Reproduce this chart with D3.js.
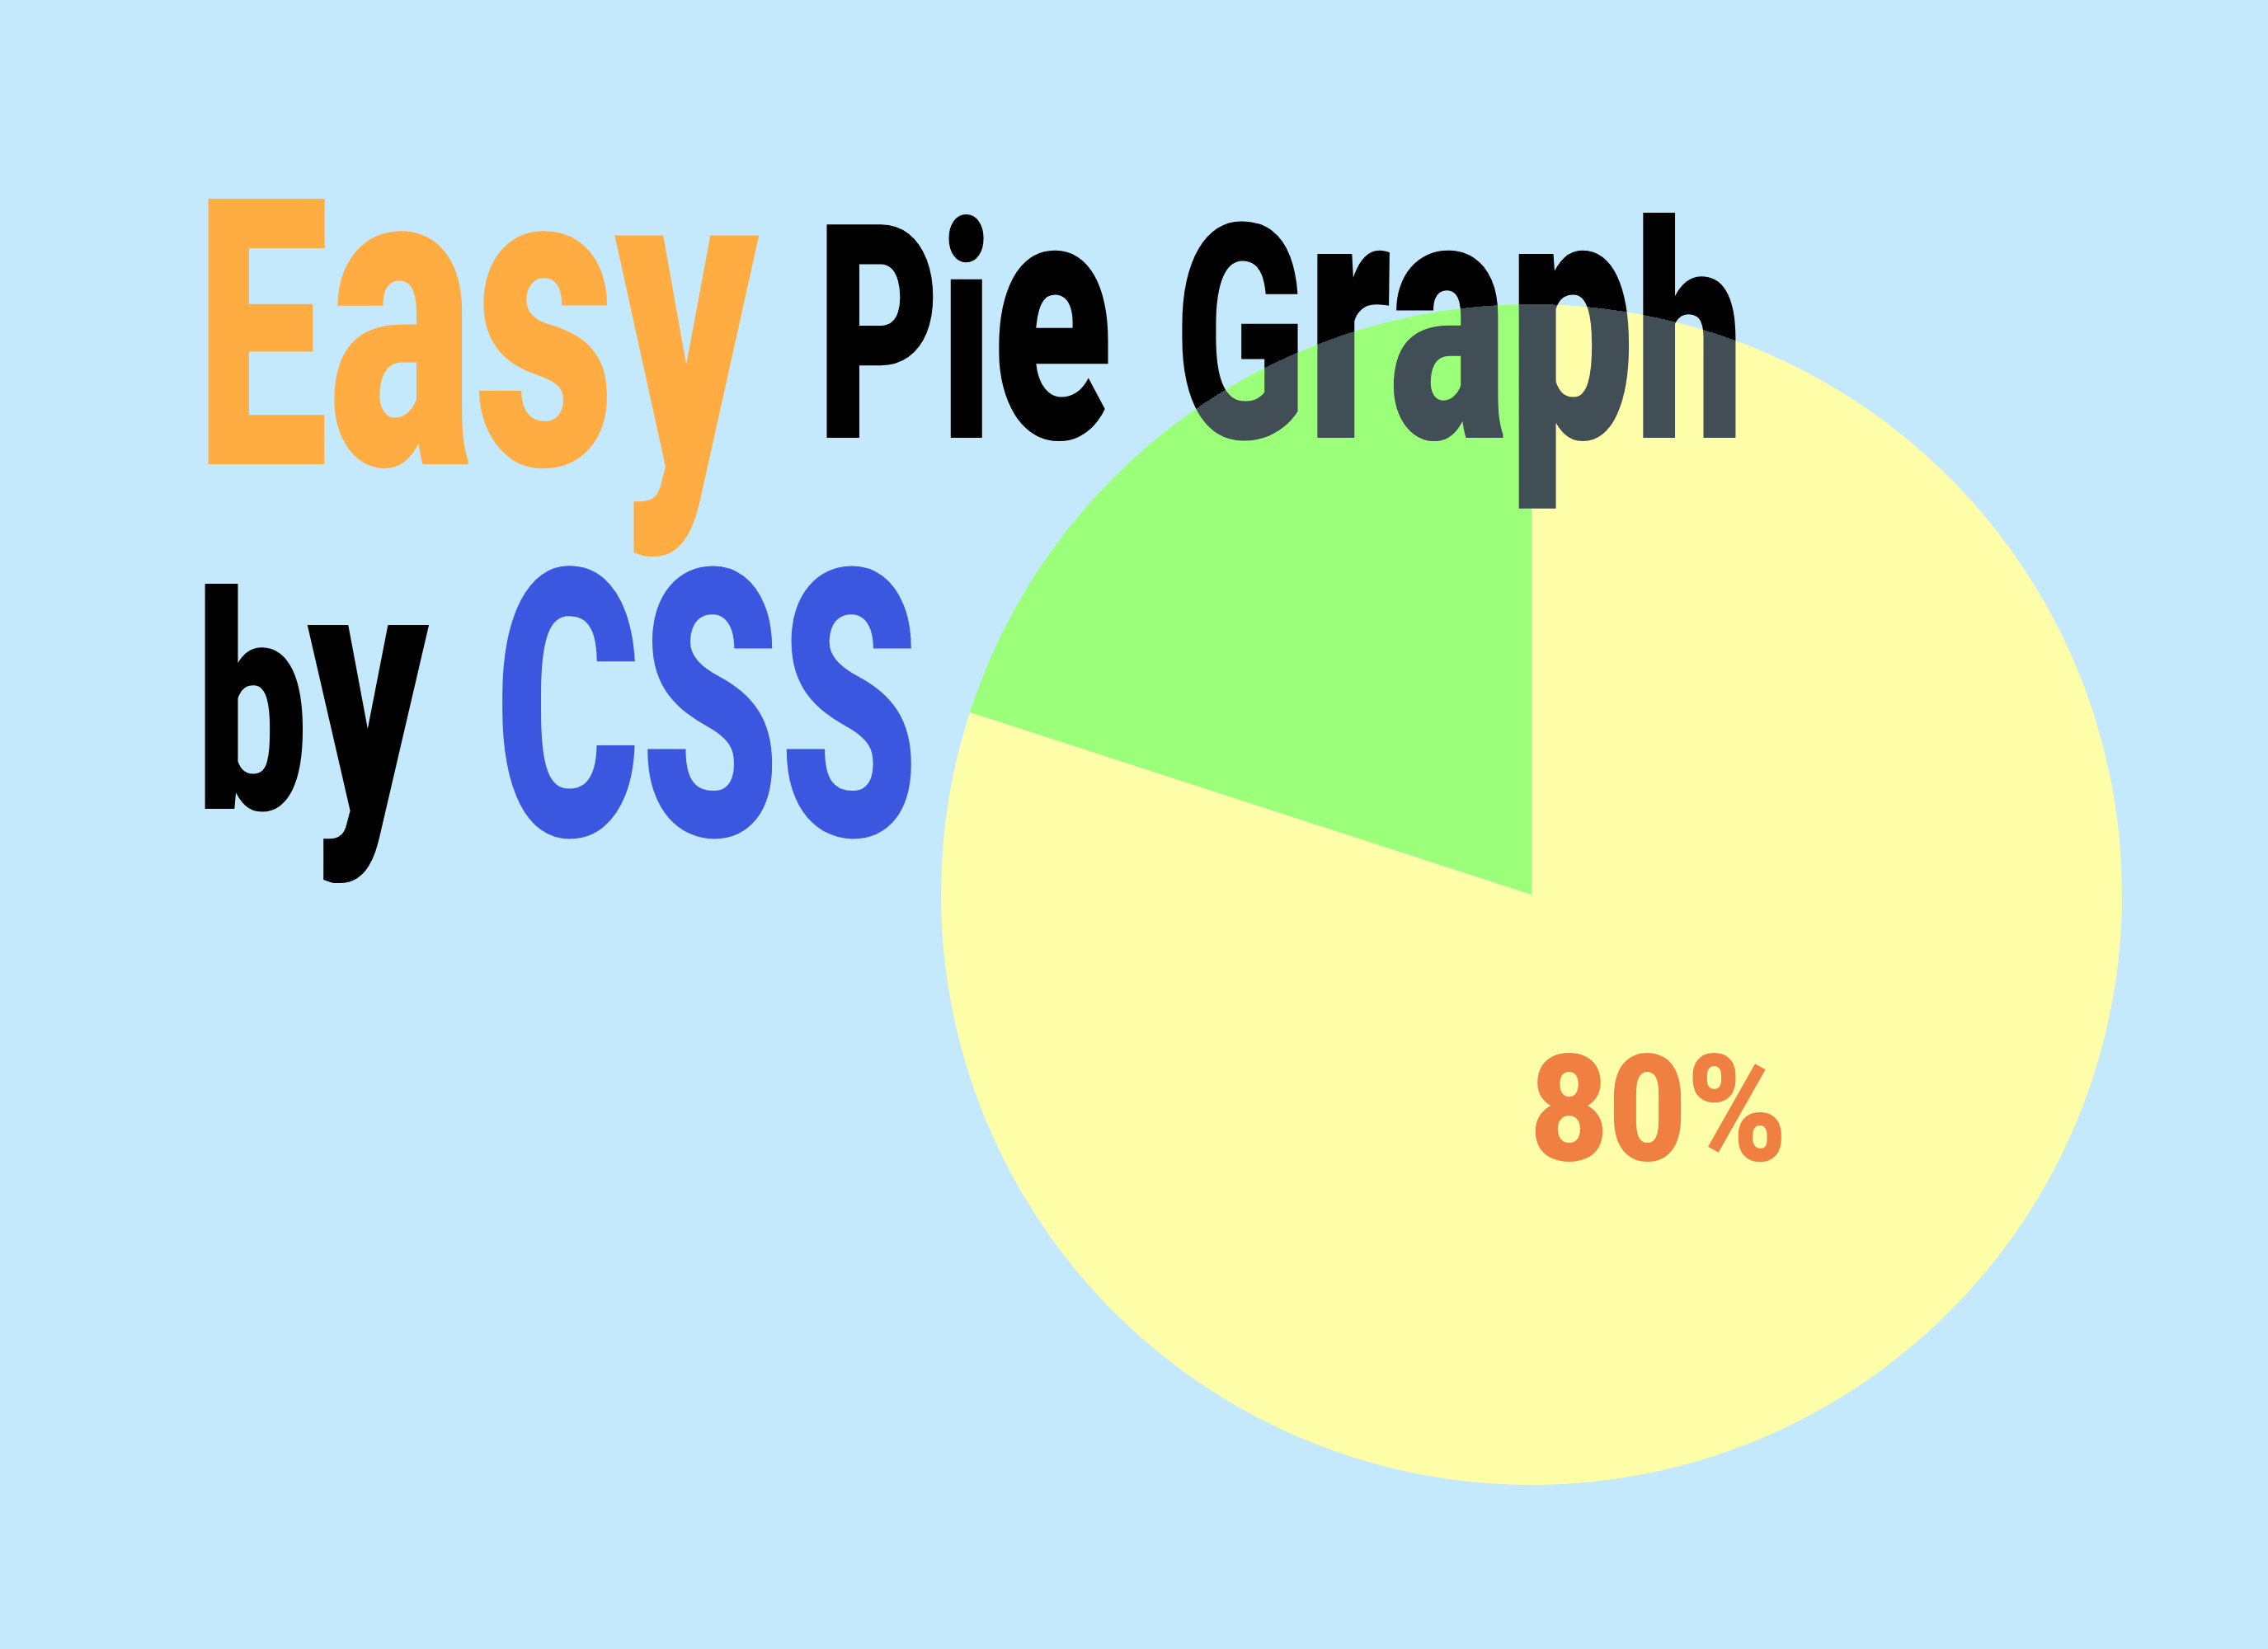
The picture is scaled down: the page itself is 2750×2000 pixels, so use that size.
<!DOCTYPE html>
<html>
<head>
<meta charset="utf-8">
<script src="https://cdn.jsdelivr.net/npm/d3@7"></script>
<style>
  html, body { margin: 0; padding: 0; background: #c4e9fc; }
  svg { display: block; }
</style>
</head>
<body>
<script>
// ---- data ----
const categories = ["Main", "Rest"];
const values = [80, 20];
const sliceColors = ["#ffffaa", "#9cff7a"];
const labelText = "80%";
const titleLine1 = ["Easy", "Pie", "Graph"];
const titleLine2 = ["by", "CSS"];

// ---- layout ----
const W = 2750, H = 2000;
const cx = 1857, cy = 1085, R = 716;
const FONT = "Roboto, Inter, 'DejaVu Sans', sans-serif";
const LOWER_SCALE = 1.16;               // taller x-height like the reference face
const shortLower = new Set("acegmnopqrsuvwxyz".split(""));
const OVER_COLOR = "#414e55";           // title colour where it lies over the pie

const svg = d3.select("body").append("svg").attr("width", W).attr("height", H);
svg.append("rect").attr("width", W).attr("height", H).attr("fill", "#c4e9fc");
const defs = svg.append("defs");

// title words
const words = [
  { t: titleLine1[0], x: 237, y: 563, fs: 453, len: 682, c: "#ffad42" },
  { t: titleLine1[1], x: 990, y: 531, fs: 364, len: 359, c: "#000000", over: true },
  { t: titleLine1[2], x: 1424, y: 531, fs: 364, len: 691, c: "#000000", over: true },
  { t: titleLine2[0], x: 237, y: 981, fs: 364, len: 282, c: "#000000" },
  { t: titleLine2[1], x: 600, y: 1013, fs: 453, len: 514, c: "#3b57e0" }
];

function measure(str, fs) {
  const tmp = svg.append("text")
    .attr("font-family", FONT).attr("font-weight", 900)
    .attr("font-size", fs).text(str);
  const n = tmp.node().getComputedTextLength();
  tmp.remove();
  return n;
}

// pie
const pie = d3.pie().sort(null).value(d => d);
const arc = d3.arc().innerRadius(0).outerRadius(R);
const arcs = pie(values);

const g = svg.append("g").attr("transform", `translate(${cx},${cy})`);
g.selectAll("path.slice").data(arcs).enter().append("path")
  .attr("class", "slice")
  .attr("d", arc)
  .attr("fill", (d, i) => sliceColors[i]);

// label inside main slice (condensed horizontally)
const labFs = 180, labLen = 312;
const labScale = labLen / measure(labelText, labFs);
g.append("text")
  .attr("transform", `translate(154,260) scale(${labScale},1)`)
  .attr("text-anchor", "middle")
  .attr("dominant-baseline", "central")
  .attr("font-family", FONT)
  .attr("font-weight", 900)
  .attr("font-size", labFs)
  .attr("fill", "#ef8042")
  .text(labelText);

// title: each word split into runs (capitals/ascenders vs short lowercase),
// each run its own text element, condensed horizontally to the word's width
const tg = svg.append("g");
let gid = 0;
words.forEach(w => {
  const segs = [];
  for (const ch of w.t) {
    const big = shortLower.has(ch);
    if (segs.length && segs[segs.length - 1].big === big) segs[segs.length - 1].s += ch;
    else segs.push({ s: ch, big });
  }
  segs.forEach(s => {
    s.fs = s.big ? w.fs * LOWER_SCALE : w.fs;
    s.nat = measure(s.s, s.fs);
  });
  const f = w.len / d3.sum(segs, s => s.nat);
  let x = w.x;
  segs.forEach(s => {
    let fill = w.c;
    if (w.over) {
      // radial gradient mapped back to the pie circle in this text's local space
      const id = "over" + (gid++);
      const gr = defs.append("radialGradient").attr("id", id)
        .attr("gradientUnits", "userSpaceOnUse")
        .attr("cx", 0).attr("cy", 0).attr("fx", 0).attr("fy", 0).attr("r", R + 1)
        .attr("gradientTransform", `translate(${(cx - x) / f},${cy - w.y}) scale(${1 / f},1)`);
      const k = R / (R + 1);
      [[0, OVER_COLOR], [k, OVER_COLOR], [k, w.c], [1, w.c]].forEach(([o, c]) =>
        gr.append("stop").attr("offset", o).attr("stop-color", c));
      fill = `url(#${id})`;
    }
    tg.append("text")
      .attr("transform", `translate(${x},${w.y}) scale(${f},1)`)
      .attr("font-family", FONT)
      .attr("font-weight", 900)
      .attr("font-size", s.fs)
      .attr("fill", fill)
      .text(s.s);
    x += s.nat * f;
  });
});
</script>
</body>
</html>
